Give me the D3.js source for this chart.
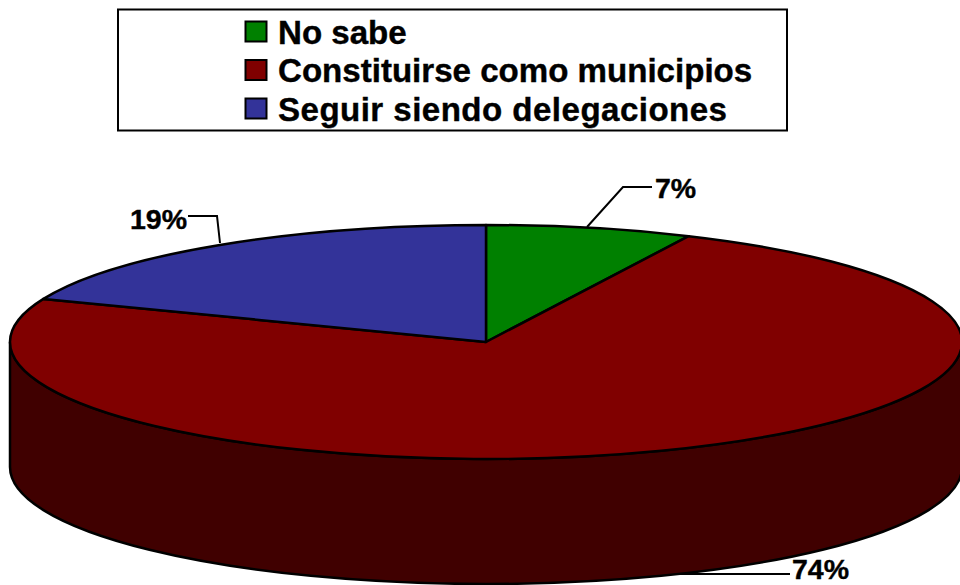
<!DOCTYPE html>
<html>
<head>
<meta charset="utf-8">
<script src="https://cdn.jsdelivr.net/npm/d3@7"></script>
<style>
  html, body { margin: 0; padding: 0; background: #fff; }
  svg { display: block; }
  text { font-family: "Liberation Sans", Arial, sans-serif; font-weight: bold; fill: #000; stroke: #000; stroke-width: 0.4px; }
</style>
</head>
<body>
<svg id="chart" width="960" height="585"></svg>
<script>
const categories = ['No sabe', 'Constituirse como municipios', 'Seguir siendo delegaciones'];
const values = [7, 74, 19];
const valueLabels = ['7%', '74%', '19%'];
const colors = ['#008000', '#800000', '#333399'];
const wallColor = '#400000';

const svg = d3.select('#chart');

// pie geometry, squashed ellipse with a wall under it
const cx = 486, cy = 342, rx = 476, ry = 117, depth = 125;

const slices = d3.pie().sort(null)(values);
const arc = d3.arc().innerRadius(0).outerRadius(rx);

// front wall, only the lower half of the ellipse is visible
svg.append('path')
  .attr('d', `M${cx - rx},${cy} A${rx},${ry} 0 0 0 ${cx + rx},${cy} L${cx + rx},${cy + depth} A${rx},${ry} 0 0 1 ${cx - rx},${cy + depth} Z`)
  .attr('fill', wallColor)
  .attr('stroke', '#000')
  .attr('stroke-width', 2.5);

svg.append('g')
  .attr('transform', `translate(${cx},${cy}) scale(1,${ry / rx})`)
  .selectAll('path')
  .data(slices)
  .join('path')
  .attr('d', arc)
  .attr('fill', (d, i) => colors[i])
  .attr('stroke', '#000')
  .attr('stroke-width', 2.5)
  .attr('stroke-linejoin', 'round')
  .attr('vector-effect', 'non-scaling-stroke');

// leader lines and value labels
const labelPos = [
  { x: 655, y: 198, line: [[587, 227], [623, 187], [652, 187]] },
  { x: 792, y: 579, line: [[676, 574], [790, 574]] },
  { x: 130, y: 229, line: [[220, 243], [217, 216], [188, 216]] }
];

labelPos.forEach((p, i) => {
  svg.append('path')
    .attr('d', d3.line()(p.line))
    .attr('fill', 'none')
    .attr('stroke', '#000')
    .attr('stroke-width', 2);
  svg.append('text')
    .attr('x', p.x)
    .attr('y', p.y)
    .style('font-size', '28.5px')
    .text(valueLabels[i]);
});

// legend
const legend = svg.append('g');
legend.append('rect')
  .attr('x', 118)
  .attr('y', 9.5)
  .attr('width', 669)
  .attr('height', 121)
  .attr('fill', '#fff')
  .attr('stroke', '#000')
  .attr('stroke-width', 2);

const legendY = d3.scalePoint().domain(categories).range([32, 109]);

categories.forEach((cat, i) => {
  legend.append('rect')
    .attr('x', 245.5)
    .attr('y', legendY(cat) - 10.5)
    .attr('width', 21)
    .attr('height', 20)
    .attr('fill', colors[i])
    .attr('stroke', '#000')
    .attr('stroke-width', 2);
  legend.append('text')
    .attr('x', 278)
    .attr('y', legendY(cat) + 11.5)
    .style('font-size', '33.1px')
    .style('letter-spacing', i == 2 ? '0.46px' : null) // last row runs a bit wider in the original
    .text(cat);
});
</script>
</body>
</html>
